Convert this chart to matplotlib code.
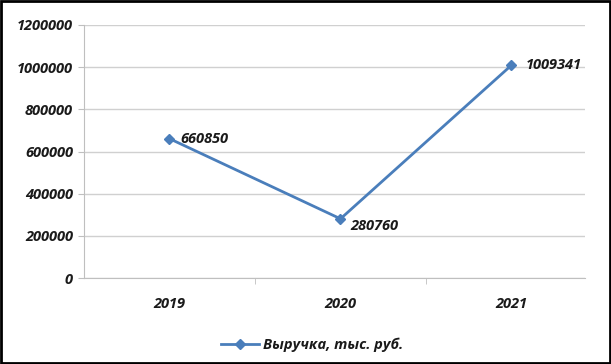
import matplotlib.pyplot as plt
from matplotlib.patches import Rectangle
from matplotlib.lines import Line2D

years = ['2019', '2020', '2021']
revenue = [660850, 280760, 1009341]
yticks = [0, 200000, 400000, 600000, 800000, 1000000, 1200000]
series_name = 'Выручка, тыс. руб.'

plt.rcParams['font.family'] = ['Open Sans', 'DejaVu Sans']

fig = plt.figure(figsize=(6.11, 3.64), dpi=100)
ax = fig.add_axes([84 / 611, 1 - 278 / 364, 501 / 611, 253 / 364])

x = list(range(len(years)))
line_color = '#4a7ebb'
ax.plot(x, revenue, color=line_color, lw=2, marker='D', ms=5.5, zorder=3, clip_on=False)

txt = dict(fontsize=10.5, style='italic', fontweight='bold', color='#1a1a1a')

# подписи значений справа от точек
offsets = [(8, 0), (7, -5), (10, 0)]
for xi, v, off in zip(x, revenue, offsets):
    ax.annotate(str(v), (xi, v), xytext=off, textcoords='offset points',
                ha='left', va='center', **txt)

ax.set_xlim(-0.5, 2.43)
ax.set_ylim(0, 1200000)
ax.set_yticks(yticks)
ax.set_yticklabels([str(t) for t in yticks], **txt)
ax.set_xticks(x)
ax.set_xticklabels(years, **txt)
ax.tick_params(axis='x', length=0, pad=14)
ax.set_xticks([0.5, 1.5], minor=True)
ax.tick_params(axis='x', which='minor', length=4, color='#bfbfbf')
ax.tick_params(axis='y', length=4, color='#bfbfbf', pad=4)
ax.grid(axis='y', color='#d0d0d0', lw=1)
ax.set_axisbelow(True)
for s in ['top', 'right']:
    ax.spines[s].set_visible(False)
ax.spines['left'].set_color('#bfbfbf')
ax.spines['bottom'].set_color('#bfbfbf')

handle = Line2D([], [], color=line_color, lw=2, marker='D', ms=5)
fig.legend([handle], [series_name], loc='center', bbox_to_anchor=(312 / 611, 1 - 345 / 364),
           frameon=False, prop={'size': 10.5, 'style': 'italic', 'weight': 'bold'},
           handlelength=2.6, handletextpad=0.3, labelcolor='#1a1a1a')

fig.patches.append(Rectangle((0.002, 0.003), 0.996, 0.994, transform=fig.transFigure,
                             fill=False, edgecolor='black', lw=2))

fig.savefig('out.png', dpi=100)
